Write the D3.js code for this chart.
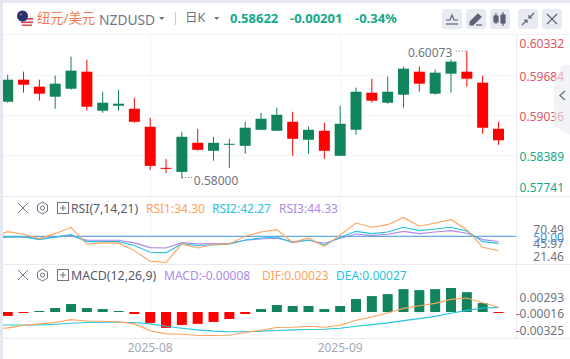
<!DOCTYPE html>
<html><head><meta charset="utf-8">
<script src="https://cdn.jsdelivr.net/npm/d3@7/dist/d3.min.js"></script>
<style>html,body{margin:0;padding:0;background:#fff;overflow:hidden}svg{display:block}text{font-family:"Noto Sans","Noto Sans CJK SC",sans-serif}</style>
</head><body><svg id="c" width="570" height="359"></svg>
<script>
const open  = [.59249,.59608,.59494,.59331,.59461,.59738,.59103,.59184,.59135,.58842,.58174,.58108,.58581,.58451,.58548,.58532,.58793,.58777,.58923,.58630,.58777,.58369,.58793,.59396,.59233,.59363,.59738,.59380,.59706,.59738,.59559,.58809];
const high  = [.59689,.59738,.59608,.59673,.59983,.59934,.59412,.59445,.59315,.58989,.58320,.58760,.58809,.58679,.58646,.58923,.59070,.59152,.59086,.58842,.58907,.59184,.59478,.59624,.59657,.59820,.59820,.59771,.59934,.60073,.59673,.58923];
const low   = [.59233,.59396,.59266,.59135,.59445,.59103,.59070,.59103,.58907,.58141,.58092,.58000,.58451,.58288,.58174,.58402,.58793,.58777,.58369,.58402,.58320,.58369,.58711,.59233,.59217,.59152,.59412,.59363,.59396,.59494,.58728,.58548];
const close = [.59608,.59526,.59380,.59543,.59755,.59168,.59233,.59217,.58923,.58206,.58157,.58679,.58467,.58581,.58565,.58826,.58972,.59037,.58646,.58793,.58451,.58891,.59412,.59266,.59412,.59787,.59543,.59722,.59901,.59624,.58826,.58622];
// each indicator list starts with the point just left of the visible window
const rsi1 = [48.5,55.1,52.2,47.5,52.9,59.8,41.3,42.8,42.8,34.4,22.8,21.46,41.7,37.3,41.3,41.7,50,54.7,57.2,43.1,48.2,38.8,51.4,64.5,59.8,62.7,70.49,60.9,64.5,68.1,57.2,38.0,34.30];
const rsi2 = [47.5,49.6,49.6,46.4,49.3,51.8,44.2,44.2,44.2,39.9,32.6,32.2,41.7,39.9,40.6,41.3,46.0,48.2,49.3,43.1,46.0,40.9,48.9,55.4,52.9,54.7,59.8,56.2,58.0,59.8,55.8,44.2,42.27];
const rsi3 = [47.8,48.9,48.9,47.5,48.9,50.7,45.7,45.7,45.7,42.8,37.7,37.3,43.1,41.7,42.0,42.4,45.7,47.1,47.8,44.2,45.7,42.4,47.8,52.5,50.7,52.2,55.4,52.9,54.7,56.2,53.3,46.4,44.33];
const dif = [-.00206,-.00194,-.00162,-.00145,-.00129,-.00093,-.00109,-.00113,-.00121,-.00145,-.00230,-.00267,-.00271,-.00287,-.00287,-.00283,-.00250,-.00222,-.00190,-.00186,-.00174,-.00186,-.00162,-.00101,-.00061,-.00012,.00044,.00077,.00105,.00154,.00170,.00113,.00057];
const dea = [-.00158,-.00158,-.00158,-.00158,-.00149,-.00137,-.00129,-.00125,-.00125,-.00129,-.00145,-.00174,-.00198,-.00218,-.00234,-.00242,-.00242,-.00234,-.00226,-.00218,-.00214,-.00210,-.00198,-.00174,-.00154,-.00133,-.00105,-.00081,-.00053,-.00016,.00020,.00048,.00057];
const macd = [-.00048,-.00012,.00012,.00048,.00097,.00048,.00036,.00012,-.00024,-.00133,-.00194,-.00158,-.00145,-.00121,-.00085,-.00024,.00036,.00085,.00073,.00073,.00036,.00073,.00158,.00194,.00218,.00279,.00267,.00279,.00293,.00242,.00109,-.00012];
const priceTicks = [.60332,.59684,.59036,.58389,.57741];
const monthIndex = [9,21];
const monthLabels = ["2025-08","2025-09"];

const UP="#11845b", DOWN="#ff0000", GRID="#f3f4f8", AX="#e9ebf1", TXT="#6f7485";
const ORANGE="#ffa35c", CYAN="#27c4dc", PURPLE="#ab8ae6", TEAL="#13a98b", CORAL="#e4525f";
const svg=d3.select("#c");
const idx=d3.range(open.length);
const x=d3.scaleLinear().domain([0,31]).range([7.7,498.5]);
const yP=d3.scaleLinear().domain([.58389,.59684]).range([154.6,75]);
const yR=d3.scaleLinear().domain([50,21.46]).range([236.3,262.5]);
const yM=d3.scaleLinear().domain([0,.00293]).range([312,288]);
const axisX=516.5;
svg.append("defs").append("clipPath").attr("id","plot").append("rect").attr("x",3).attr("y",35).attr("width",513).attr("height",303);

function T(s,px,py,o={}){return svg.append("text").attr("x",px).attr("y",py).attr("font-size",o.size||12).attr("fill",o.fill||TXT).attr("text-anchor",o.anchor||"start").attr("font-weight",o.weight||400).attr("dominant-baseline","central").text(s);}
function HL(y,x1,x2,c){svg.append("line").attr("x1",x1).attr("x2",x2).attr("y1",y+.5).attr("y2",y+.5).attr("stroke",c).attr("stroke-width",1);}
function VL(px,y1,y2,c){svg.append("line").attr("x1",px).attr("x2",px).attr("y1",y1).attr("y2",y2).attr("stroke",c).attr("stroke-width",1);}

svg.append("rect").attr("width",570).attr("height",3).attr("fill","#e6e9f0");
svg.append("rect").attr("width",3).attr("height",359).attr("fill","#e6e9f0");
HL(34,3,570,GRID);
priceTicks.slice(1,4).forEach(v=>HL(Math.round(yP(v)),3,516,GRID));
HL(196,3,570,AX); HL(264,3,570,AX); HL(338,3,570,AX);
monthIndex.forEach(i=>VL(Math.round(x(i))+.5,35,338,GRID));
VL(axisX,35,338,AX);

const plot=svg.append("g").attr("clip-path","url(#plot)");
const cg=plot.append("g");
cg.selectAll("line").data(idx).join("line").attr("x1",i=>x(i)).attr("x2",i=>x(i))
 .attr("y1",i=>yP(high[i])).attr("y2",i=>yP(low[i])).attr("stroke",i=>close[i]>=open[i]?UP:DOWN).attr("stroke-width",1);
cg.selectAll("rect").data(idx).join("rect").attr("x",i=>x(i)-5.5).attr("width",11)
 .attr("y",i=>yP(Math.max(open[i],close[i]))).attr("height",i=>Math.max(1,Math.abs(yP(open[i])-yP(close[i]))))
 .attr("fill",i=>close[i]>=open[i]?UP:DOWN);
const hi=d3.maxIndex(high), lo=d3.minIndex(low);
T("0.60073",x(hi)-14.5,yP(high[hi])+1.5,{anchor:"end"});
svg.append("line").attr("x1",x(hi)-11).attr("x2",x(hi)).attr("y1",yP(high[hi])).attr("y2",yP(high[hi])).attr("stroke","#6f7485").attr("stroke-dasharray","1 2");
T("0.58000",x(lo)+12,yP(low[lo])+1.5);
svg.append("line").attr("x1",x(lo)).attr("x2",x(lo)+11).attr("y1",yP(low[lo])-1).attr("y2",yP(low[lo])-1).attr("stroke","#6f7485").attr("stroke-dasharray","1 2");

priceTicks.forEach((v,i)=>{T(d3.format(".5f")(v),564,Math.max(43,Math.min(187,yP(v)+1.5)),{anchor:"end",fill:i<3?CORAL:TEAL});});

svg.append("path").attr("d","M570 65 L563 65 L554 80 L554 126 L570 135 Z").attr("fill","#e9ebf1").attr("opacity",.6);
svg.append("path").attr("d","M565 91 L560 95.5 L565 100").attr("fill","none").attr("stroke","#6f7485").attr("stroke-width",1.4);

plot.append("line").attr("x1",3).attr("x2",516).attr("y1",yR(50)).attr("y2",yR(50)).attr("stroke","#3f95e2").attr("stroke-width",1);
const lineR=d3.line().x((d,i)=>x(i-1)).y(d=>yR(d));
[[rsi3,PURPLE],[rsi2,CYAN],[rsi1,ORANGE]].forEach(([s,c])=>plot.append("path").attr("d",lineR(s)).attr("fill","none").attr("stroke",c).attr("stroke-width",1.1));
[["70.49",229],["45.97",243],["21.46",256]].forEach(([s,py])=>T(s,564,py,{anchor:"end"}));
T("50.00",564,237,{anchor:"end",fill:"#3f95e2"});

plot.append("g").selectAll("rect").data(idx).join("rect").attr("x",i=>x(i)-5).attr("width",10)
 .attr("y",i=>Math.min(yM(macd[i]),yM(0))).attr("height",i=>Math.abs(yM(macd[i])-yM(0)))
 .attr("fill",i=>macd[i]>=0?UP:DOWN);
const lineM=d3.line().x((d,i)=>x(i-1)).y(d=>yM(d));
[[dea,CYAN],[dif,ORANGE]].forEach(([s,c])=>plot.append("path").attr("d",lineM(s)).attr("fill","none").attr("stroke",c).attr("stroke-width",1.1));
[["0.00293",297],["-0.00016",313],["-0.00325",330]].forEach(([s,py])=>T(s,564,py,{anchor:"end"}));
monthIndex.forEach((i,k)=>T(monthLabels[k],x(i),347,{anchor:"middle",fill:"#a5a8b8"}));

function tools(py){
 const g=svg.append("g").attr("fill","none").attr("stroke","#6f7485").attr("stroke-width",1);
 g.append("path").attr("d",`M18 ${py-5} L28 ${py+5} M28 ${py-5} L18 ${py+5}`);
 g.append("path").attr("d",`M42.5 ${py-6} L47.5 ${py-3} L47.5 ${py+3} L42.5 ${py+6} L37.5 ${py+3} L37.5 ${py-3} Z`);
 g.append("circle").attr("cx",42.5).attr("cy",py).attr("r",2);
 g.append("rect").attr("x",57.5).attr("y",py-5.5).attr("width",11).attr("height",11);
 g.append("path").attr("d",`M60 ${py} H66 M63 ${py-3} V${py+3}`);
}
tools(208);
T("RSI(7,14,21)",71,208,{fill:"#555a6b",size:12.2});
T("RSI1:34.30",146,208,{fill:ORANGE});
T("RSI2:42.27",212,208,{fill:CYAN});
T("RSI3:44.33",279,208,{fill:PURPLE});
tools(275);
T("MACD(12,26,9)",71,275,{fill:"#555a6b",size:12.4});
T("MACD:-0.00008",164,275,{fill:PURPLE});
T("DIF:0.00023",262,275,{fill:ORANGE});
T("DEA:0.00027",336,275,{fill:CYAN});

const fl=svg.append("g");
fl.append("circle").attr("cx",27).attr("cy",21).attr("r",6).attr("fill","#f3eef0");
fl.append("rect").attr("x",21).attr("y",18).attr("width",12).attr("height",1.6).attr("fill","#d8404f");
fl.append("rect").attr("x",21).attr("y",21.5).attr("width",12).attr("height",1.6).attr("fill","#d8404f");
fl.append("rect").attr("x",22).attr("y",24.5).attr("width",10).attr("height",1.4).attr("fill","#d8404f");
fl.append("circle").attr("cx",22.5).attr("cy",16).attr("r",5.5).attr("fill","#26356f");
fl.append("circle").attr("cx",21).attr("cy",14.5).attr("r",1).attr("fill","#e6606a");
T("纽元/美元",37,17.5,{fill:"#f37b55",size:13.3});
T("NZDUSD",99,19,{fill:"#6f7485",size:13.8});
svg.append("path").attr("d","M159 17 L164.5 17 L161.7 20 Z").attr("fill","#6f7485");
VL(175.5,12,25,"#c9ccd6");
T("日K",185,17.5,{fill:"#6f7485",size:12.5});
svg.append("path").attr("d","M214 17 L219.5 17 L216.7 20 Z").attr("fill","#6f7485");
T("0.58622",230,17.5,{fill:TEAL,size:13,weight:700});
T("-0.00201",290,17.5,{fill:TEAL,size:13,weight:700});
T("-0.34%",355,17.5,{fill:TEAL,size:13,weight:700});
[[442,'line'],[466,'pen'],[490,'cand'],[518,'shrink'],[542,'x']].forEach(([bx,k])=>{
 svg.append("rect").attr("x",bx).attr("y",9).attr("width",20).attr("height",20).attr("rx",3).attr("fill","#e8eaf1");
 const cx=bx+10, cy=19, s="#5e6375";
 const g=svg.append("g").attr("fill","none").attr("stroke",s).attr("stroke-width",1.2);
 if(k=='line') g.html(`<path d="M${cx-6} ${cy+1} H${cx-2} L${cx} ${cy-4} L${cx+2} ${cy+1} H${cx+6}"/><path d="M${cx-6} ${cy+5} H${cx+6}"/>`);
 if(k=='pen') g.html(`<path d="M${cx-6} ${cy+3} L${cx+2} ${cy-5} L${cx+5} ${cy-2} L${cx-3} ${cy+6} H${cx-6} Z" fill="${s}"/><path d="M${cx} ${cy+6} H${cx+6}"/>`);
 if(k=='cand') g.html(`<rect x="${cx-6}" y="${cy-3}" width="4" height="6" fill="${s}"/><path d="M${cx-4} ${cy-6} V${cy+5}"/><rect x="${cx+1}" y="${cy-4}" width="4" height="8" fill="${s}"/><path d="M${cx+3} ${cy-7} V${cy+7}"/>`);
 if(k=='shrink') g.html(`<path d="M${cx+6} ${cy-6} L${cx+1} ${cy-1} M${cx+1} ${cy-4} V${cy-1} H${cx+4} M${cx-6} ${cy+6} L${cx-1} ${cy+1} M${cx-1} ${cy+4} V${cy+1} H${cx-4}"/>`);
 if(k=='x') g.html(`<path d="M${cx-5} ${cy-5} L${cx+5} ${cy+5} M${cx+5} ${cy-5} L${cx-5} ${cy+5}"/>`);
});
</script></body></html>
